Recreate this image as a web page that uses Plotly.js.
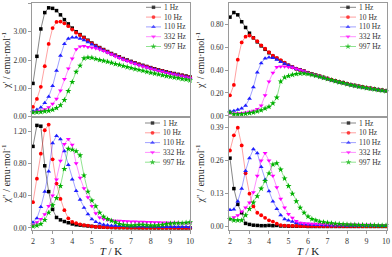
<!DOCTYPE html>
<html><head><meta charset="utf-8">
<script src="https://cdn.plot.ly/plotly-3.0.1.min.js"></script>
<style>html,body{margin:0;padding:0;background:#fff;}#chart{width:392px;height:257px;}</style>
</head><body><div id="chart"></div>
<script>
const T = [2.0,2.2,2.4,2.6,2.8,3.0,3.2,3.4,3.6,3.8,4.0,4.2,4.4,4.6,4.8,5.0,5.2,5.4,5.6,5.8,6.0,6.2,6.4,6.6,6.8,7.0,7.2,7.4,7.6,7.8,8.0,8.2,8.4,8.6,8.8,9.0,9.2,9.4,9.6,9.8,10.0];
const freqs = ['1 Hz','10 Hz','110 Hz','332 Hz','997 Hz'];

// left column, chi' (in-phase)
const leftRe1   = [1.17,2.13,3.10,3.68,3.85,3.83,3.75,3.60,3.43,3.28,3.13,3.00,2.90,2.80,2.70,2.60,2.51,2.44,2.37,2.30,2.23,2.17,2.11,2.05,2.00,1.95,1.90,1.85,1.81,1.77,1.73,1.69,1.65,1.62,1.58,1.55,1.52,1.49,1.46,1.43,1.40];
const leftRe10  = [0.34,0.62,1.05,1.78,2.57,3.13,3.35,3.36,3.30,3.20,3.08,2.97,2.88,2.78,2.69,2.59,2.50,2.43,2.36,2.29,2.22,2.16,2.10,2.04,1.99,1.94,1.89,1.84,1.80,1.76,1.72,1.68,1.64,1.61,1.57,1.54,1.51,1.48,1.45,1.42,1.39];
const leftRe110 = [0.19,0.24,0.32,0.48,0.70,1.08,1.62,2.15,2.57,2.76,2.80,2.80,2.76,2.70,2.63,2.55,2.48,2.41,2.34,2.28,2.21,2.15,2.09,2.03,1.98,1.93,1.88,1.83,1.79,1.75,1.71,1.67,1.63,1.60,1.56,1.53,1.50,1.47,1.44,1.41,1.38];
const leftRe332 = [0.15,0.17,0.20,0.25,0.32,0.45,0.62,0.92,1.32,1.70,2.05,2.38,2.48,2.49,2.46,2.44,2.41,2.37,2.32,2.26,2.20,2.13,2.07,2.01,1.96,1.91,1.86,1.81,1.77,1.73,1.69,1.65,1.61,1.58,1.54,1.51,1.48,1.45,1.42,1.39,1.36];
const leftRe997 = [0.14,0.15,0.16,0.18,0.20,0.24,0.30,0.40,0.58,0.90,1.22,1.58,1.80,2.06,2.09,2.08,2.04,2.00,1.97,1.94,1.90,1.86,1.83,1.79,1.75,1.72,1.68,1.65,1.62,1.58,1.55,1.52,1.49,1.46,1.43,1.41,1.38,1.36,1.33,1.31,1.28];

// right column, chi'
const rightRe1   = [0.86,0.90,0.88,0.82,0.77,0.72,0.68,0.645,0.61,0.58,0.55,0.52,0.50,0.48,0.46,0.44,0.425,0.41,0.40,0.39,0.375,0.365,0.355,0.345,0.335,0.325,0.315,0.305,0.295,0.29,0.28,0.272,0.265,0.258,0.252,0.246,0.24,0.235,0.229,0.224,0.219];
const rightRe10  = [0.18,0.27,0.49,0.64,0.69,0.70,0.68,0.65,0.615,0.585,0.555,0.525,0.505,0.485,0.463,0.443,0.427,0.412,0.40,0.39,0.376,0.366,0.356,0.346,0.336,0.326,0.316,0.306,0.297,0.29,0.281,0.273,0.266,0.259,0.253,0.247,0.241,0.235,0.23,0.225,0.22];
const rightRe110 = [0.04,0.045,0.055,0.065,0.09,0.15,0.25,0.38,0.46,0.50,0.51,0.505,0.49,0.47,0.455,0.44,0.425,0.41,0.40,0.388,0.374,0.364,0.354,0.344,0.334,0.324,0.314,0.304,0.295,0.288,0.279,0.271,0.264,0.257,0.251,0.245,0.239,0.234,0.228,0.223,0.218];
const rightRe332 = [0.025,0.02,0.022,0.025,0.03,0.035,0.045,0.06,0.09,0.18,0.30,0.375,0.425,0.43,0.43,0.425,0.42,0.41,0.40,0.388,0.374,0.363,0.353,0.343,0.333,0.323,0.313,0.303,0.294,0.287,0.278,0.27,0.263,0.256,0.25,0.244,0.238,0.233,0.227,0.222,0.217];
const rightRe997 = [0.03,0.015,0.015,0.015,0.02,0.025,0.03,0.04,0.05,0.065,0.08,0.11,0.16,0.30,0.335,0.348,0.358,0.365,0.37,0.37,0.365,0.358,0.35,0.341,0.332,0.322,0.312,0.302,0.293,0.286,0.277,0.269,0.262,0.255,0.249,0.243,0.237,0.232,0.226,0.221,0.216];

// left column, chi'' (out-of-phase)
const leftIm1   = [1.01,1.27,1.26,0.77,0.45,0.23,0.13,0.10,0.08,0.065,0.05,0.04,0.035,0.03,0.025,0.02,0.015,0.012,0.01,0.008,0.007,0.006,0.005,0.005,0.004,0.004,0.004,0.003,0.003,0.003,0.003,0.002,0.002,0.002,0.002,0.002,0.002,0.001,0.001,0.001,0.001];
const leftIm10  = [0.32,0.61,0.92,1.21,1.28,0.85,0.55,0.36,0.22,0.12,0.075,0.06,0.045,0.035,0.03,0.02,0.015,0.012,0.01,0.008,0.007,0.006,0.005,0.005,0.004,0.004,0.004,0.003,0.003,0.003,0.003,0.003,0.002,0.002,0.002,0.002,0.002,0.002,0.002,0.001,0.001];
const leftIm110 = [0.07,0.12,0.26,0.45,0.70,1.05,1.14,1.10,0.95,0.78,0.60,0.46,0.35,0.25,0.17,0.11,0.075,0.055,0.04,0.035,0.03,0.028,0.026,0.024,0.022,0.02,0.02,0.018,0.018,0.016,0.016,0.015,0.015,0.014,0.014,0.013,0.013,0.012,0.012,0.012,0.011];
const leftIm332 = [0.04,0.07,0.11,0.17,0.27,0.40,0.60,0.83,1.04,1.10,1.03,0.80,0.62,0.49,0.38,0.27,0.18,0.13,0.11,0.10,0.095,0.09,0.088,0.085,0.083,0.08,0.078,0.076,0.075,0.073,0.072,0.07,0.069,0.068,0.066,0.065,0.064,0.063,0.062,0.061,0.06];
const leftIm997 = [0.02,0.03,0.05,0.10,0.19,0.28,0.37,0.52,0.73,0.98,0.97,0.95,0.90,0.65,0.45,0.34,0.27,0.19,0.14,0.11,0.09,0.07,0.05,0.04,0.035,0.03,0.035,0.04,0.04,0.035,0.03,0.03,0.035,0.04,0.05,0.055,0.06,0.06,0.06,0.065,0.07];

// right column, chi''
const rightIm1   = [0.27,0.15,0.088,0.055,0.013,0.009,0.006,0.005,0.004,0.004,0.005,0.004,0.005,0.003,0.003,0.002,0.002,0.002,0.002,0.002,0.001,0.001,0.001,0.001,0.001,0.001,0.001,0.001,0.001,0.001,0.001,0.001,0.001,0.001,0.001,0.001,0.001,0.001,0.001,0.001,0.001];
const rightIm10  = [0.30,0.36,0.39,0.32,0.21,0.13,0.08,0.055,0.045,0.035,0.025,0.02,0.012,0.006,0.004,0.003,0.003,0.003,0.002,0.002,0.002,0.002,0.002,0.002,0.002,0.002,0.002,0.002,0.002,0.002,0.002,0.002,0.002,0.002,0.002,0.002,0.002,0.002,0.002,0.002,0.002];
const rightIm110 = [0.066,0.068,0.10,0.15,0.22,0.27,0.305,0.29,0.235,0.185,0.14,0.10,0.07,0.045,0.03,0.025,0.02,0.015,0.012,0.01,0.009,0.008,0.007,0.007,0.006,0.006,0.005,0.005,0.005,0.005,0.004,0.004,0.004,0.004,0.004,0.003,0.003,0.003,0.003,0.003,0.003];
const rightIm332 = [0.03,0.037,0.045,0.06,0.075,0.095,0.135,0.20,0.26,0.29,0.26,0.20,0.155,0.11,0.075,0.05,0.035,0.022,0.015,0.013,0.012,0.011,0.011,0.01,0.01,0.01,0.009,0.009,0.009,0.008,0.008,0.008,0.008,0.007,0.007,0.007,0.007,0.006,0.006,0.006,0.006];
const rightIm997 = [0.03,0.025,0.025,0.025,0.045,0.07,0.095,0.12,0.15,0.18,0.21,0.245,0.25,0.225,0.19,0.16,0.13,0.10,0.075,0.055,0.04,0.03,0.025,0.02,0.018,0.016,0.014,0.012,0.011,0.01,0.009,0.008,0.008,0.007,0.007,0.006,0.006,0.006,0.005,0.005,0.005];

const yTicksLeftRe  = [0,1,2,3,4];
const yTicksRightRe = [0,0.2,0.4,0.6,0.8];
const yTicksLeftIm  = [0,0.4,0.8,1.2];
const yTicksRightIm = [0,0.13,0.26,0.39];
const xTicks = [2,3,4,5,6,7,8,9,10];

const FONT = 'Liberation Serif, Times New Roman, serif';
const styles = [
  {color:'#000000', line:'rgba(0,0,0,0.6)',      symbol:'square',        size:3.5},
  {color:'#ff0000', line:'rgba(255,40,40,0.55)', symbol:'circle',        size:3.8},
  {color:'#1f1fff', line:'rgba(40,40,255,0.55)', symbol:'triangle-up',   size:4.3},
  {color:'#ff00ff', line:'rgba(255,0,255,0.55)', symbol:'triangle-down', size:4.3},
  {color:'#00b000', line:'rgba(0,190,0,0.55)',   symbol:'star',          size:4.6}
];

const panels = [
  {xa:'x',  ya:'y',  data:[leftRe1,leftRe10,leftRe110,leftRe332,leftRe997]},
  {xa:'x2', ya:'y2', data:[rightRe1,rightRe10,rightRe110,rightRe332,rightRe997]},
  {xa:'x3', ya:'y3', data:[leftIm1,leftIm10,leftIm110,leftIm332,leftIm997]},
  {xa:'x4', ya:'y4', data:[rightIm1,rightIm10,rightIm110,rightIm332,rightIm997]}
];

const traces = [];
panels.forEach(p => {
  p.data.forEach((vals, i) => {
    const s = styles[i];
    traces.push({
      type:'scatter', mode:'lines+markers', x:T, y:vals, xaxis:p.xa, yaxis:p.ya,
      name:freqs[i], showlegend:false, cliponaxis:false,
      line:{color:s.line, width:0.8},
      marker:{color:s.color, symbol:s.symbol, size:s.size, line:{width:0}}
    });
  });
});

const W = 392, H = 257;

// compact hand-made legends (pixel units on an overlay axis)
const legendPos = [
  {x0:146, x1:161, y0:7.3},
  {x0:340, x1:356, y0:7.3},
  {x0:145, x1:160, y0:123},
  {x0:341, x1:356, y0:123}
];
const legendStep = 9.8;
const annotations = [];
legendPos.forEach(lp => {
  freqs.forEach((name, i) => {
    const s = styles[i];
    const yy = lp.y0 + i*legendStep;
    traces.push({
      type:'scatter', mode:'lines+markers', xaxis:'x5', yaxis:'y5',
      x:[lp.x0, (lp.x0+lp.x1)/2, lp.x1], y:[yy,yy,yy],
      showlegend:false, hoverinfo:'skip', cliponaxis:false,
      line:{color:s.line, width:0.8},
      marker:{color:s.color, symbol:s.symbol, size:[0, s.size, 0], line:{width:0}}
    });
    annotations.push({
      xref:'paper', yref:'paper', x:(lp.x1+1.5)/W, y:1-yy/H,
      xanchor:'left', yanchor:'middle', showarrow:false, borderpad:0,
      text:name, font:{family:FONT, size:7.5, color:'#333'}
    });
  });
});

const xL = [32/W, 190/W], xR = [229/W, 387/W];
const yTop = [(H-117)/H, (H-3)/H], yBot = [(H-230)/H, (H-117)/H];

const axLine = {showline:true, mirror:true, linecolor:'#9a9a9a', linewidth:1, showgrid:false, zeroline:false,
  tickcolor:'#9a9a9a', ticklen:3, tickwidth:1,
  tickfont:{family:FONT, size:7.5, color:'#333'}};
const ytitle = (txt) => ({text:txt, font:{family:FONT, size:10, color:'#222'}, standoff:3});
const xtitle = {text:'<i>T</i> / K', font:{family:FONT, size:11, color:'#222'}, standoff:1};

const layout = {
  width:W, height:H, margin:{l:0,r:0,t:0,b:0},
  paper_bgcolor:'#ffffff', plot_bgcolor:'rgba(0,0,0,0)', showlegend:false,
  annotations: annotations,
  xaxis:  Object.assign({}, axLine, {domain:xL, range:[1.95,10], anchor:'y',  ticks:'', showticklabels:false}),
  xaxis2: Object.assign({}, axLine, {domain:xR, range:[1.95,10.05], anchor:'y2', ticks:'', showticklabels:false}),
  xaxis3: Object.assign({}, axLine, {domain:xL, range:[1.95,10], anchor:'y3', ticks:'outside', tickvals:xTicks, tickfont:{family:FONT,size:8,color:'#333'}, title:xtitle}),
  xaxis4: Object.assign({}, axLine, {domain:xR, range:[1.95,10.05], anchor:'y4', ticks:'outside', tickvals:xTicks, tickfont:{family:FONT,size:8,color:'#333'}, title:xtitle}),
  yaxis:  Object.assign({}, axLine, {domain:yTop, range:[-0.02,4.02], anchor:'x',  ticks:'outside', tickvals:yTicksLeftRe, tickformat:'.2f', title:ytitle("χ' / emu·mol<sup>-1</sup>")}),
  yaxis2: Object.assign({}, axLine, {domain:yTop, range:[-0.009,0.983], anchor:'x2', ticks:'outside', tickvals:yTicksRightRe, tickformat:'.2f', title:ytitle("χ' / emu·mol<sup>-1</sup>")}),
  yaxis3: Object.assign({}, axLine, {domain:yBot, range:[-0.025,1.374], anchor:'x3', ticks:'outside', tickvals:yTicksLeftIm, tickformat:'.2f', title:ytitle("χ'' / emu·mol<sup>-1</sup>")}),
  yaxis4: Object.assign({}, axLine, {domain:yBot, range:[-0.013,0.432], anchor:'x4', ticks:'outside', tickvals:yTicksRightIm, tickformat:'.2f', title:ytitle("χ'' / emu·mol<sup>-1</sup>")}),
  xaxis5: {domain:[0,1], range:[0,W], anchor:'y5', visible:false, fixedrange:true},
  yaxis5: {domain:[0,1], range:[H,0], anchor:'x5', visible:false, fixedrange:true}
};

Plotly.newPlot('chart', traces, layout, {staticPlot:true, displayModeBar:false});
</script>
</body></html>
